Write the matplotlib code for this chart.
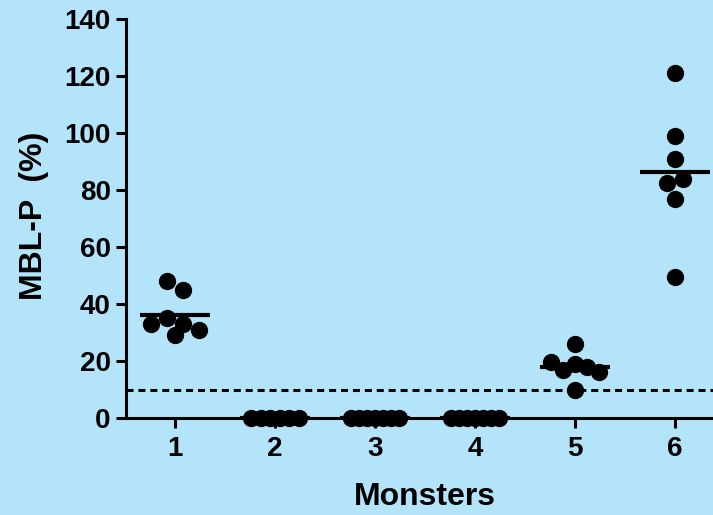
import matplotlib
matplotlib.use("Agg")
import matplotlib.pyplot as plt
import numpy as np

# values, one list per group
groups = [1, 2, 3, 4, 5, 6]
group_values = [
    [48, 45, 33, 35, 33, 31, 29],
    [0, 0, 0, 0, 0, 0],
    [0, 0, 0, 0, 0, 0, 0],
    [0, 0, 0, 0, 0, 0, 0],
    [26, 19.5, 17, 19, 18, 16, 10],
    [121, 99, 91, 82.5, 84, 77, 49.5],
]
cutoff = 10
y_ticks = [0, 20, 40, 60, 80, 100, 120, 140]

bg = "#b4e4fa"
plt.rcParams["font.family"] = ["Liberation Sans", "DejaVu Sans"]
plt.rcParams["font.weight"] = "bold"


def swarm(values, thresh=5.0, step=0.16, max_half=0.24):
    # put close values in one row and spread each row around the centre
    values = np.asarray(values, float)
    offsets = np.zeros(len(values))
    order = np.argsort(-values, kind="stable")
    rows = []
    for i in order:
        if rows and values[rows[-1][0]] - values[i] <= thresh:
            rows[-1].append(i)
        else:
            rows.append([i])
    for row in rows:
        row = sorted(row)
        n = len(row)
        if n > 1:
            s = min(step, 2 * max_half / (n - 1))
            offsets[row] = (np.arange(n) - (n - 1) / 2) * s
    return offsets


fig = plt.figure(figsize=(7.13, 5.15), dpi=100, facecolor=bg)
ax = fig.add_axes([126 / 713, 97 / 515, 587 / 713, 399 / 515], facecolor=bg)

for g, vals in zip(groups, group_values):
    x = g + swarm(vals)
    ax.scatter(x, vals, s=155, color="black", linewidths=0, zorder=3, clip_on=False)
    ax.hlines(np.mean(vals), g - 0.35, g + 0.35, color="black", lw=3, zorder=2)

ax.axhline(cutoff, color="black", lw=2.2, ls=(0, (2.3, 1.6)), zorder=2)

ax.set_xlim(0.51, 6.38)
ax.set_ylim(0, 140)
ax.set_xticks(groups)
ax.set_yticks(y_ticks)

for side in ("top", "right"):
    ax.spines[side].set_visible(False)
for side in ("left", "bottom"):
    ax.spines[side].set_linewidth(2.2)

ax.tick_params(direction="out", length=7, width=2.2, labelsize=20, pad=4)
ax.tick_params(axis="x", pad=6)

fig.text(425 / 713, (515 - 505) / 515, "Monsters", fontsize=23,
         fontweight="bold", ha="center", va="baseline")
fig.text(34 / 713, (515 - 216) / 515, "MBL-P  (%)", fontsize=23,
         fontweight="bold", ha="center", va="center", rotation=90)

fig.savefig("out.png", dpi=100, facecolor=bg)
